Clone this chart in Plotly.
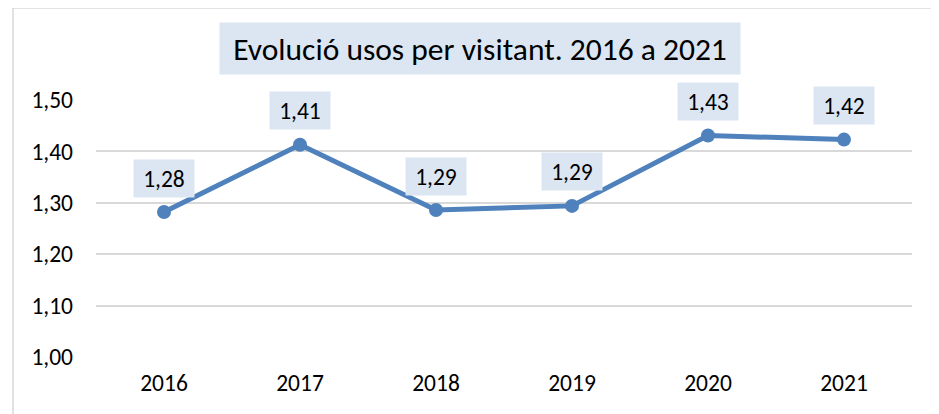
import plotly.graph_objects as go

years = ["2016", "2017", "2018", "2019", "2020", "2021"]
usos_per_visitant = [1.282, 1.413, 1.286, 1.294, 1.431, 1.423]
title_text = "Evolució usos per visitant. 2016 a 2021"
y_ticks = [1.00, 1.10, 1.20, 1.30, 1.40, 1.50]

FONT = "Carlito, Calibri, Lato, sans-serif"
LINE_COLOR = "#4F81BD"
LABEL_BG = "#DCE6F2"
GRID = "#D9D9D9"

fig = go.Figure()
fig.add_trace(go.Scatter(
    x=years, y=usos_per_visitant, mode="lines+markers",
    line=dict(color=LINE_COLOR, width=5),
    marker=dict(color=LINE_COLOR, size=14),
    hoverinfo="skip", showlegend=False,
))

annotations = []
for i, v in enumerate(usos_per_visitant):
    annotations.append(dict(
        x=i, y=v, xref="x", yref="y",
        text=f"{v:.2f}".replace(".", ","),
        showarrow=False, yshift=34,
        bgcolor=LABEL_BG, width=56, height=33, borderpad=2,
        font=dict(family=FONT, size=23.5, color="#000000"),
    ))

# page has an 8px body margin; screen plot area x 96..912, y 100..357
OFF = 8
W, H = 939, 414
L, T = 96 - OFF, 100 - OFF
R = W - (912 - OFF)
B = H - (357 - OFF)
pw, ph = W - L - R, H - T - B

def px_x(px):
    return (px - OFF - L) / pw

def px_y(py):
    return (H - B - (py - OFF)) / ph

annotations.append(dict(
    x=px_x(480), y=px_y(48.5), xref="paper", yref="paper",
    text=title_text, showarrow=False,
    bgcolor=LABEL_BG, width=516, height=47, borderpad=2,
    xanchor="center", yanchor="middle",
    font=dict(family=FONT, size=31.5, color="#000000"),
))

shapes = [
    dict(type="line", xref="paper", yref="paper",
         x0=px_x(13), x1=px_x(13), y0=px_y(8), y1=px_y(414),
         line=dict(color=GRID, width=1.5)),
    dict(type="line", xref="paper", yref="paper",
         x0=px_x(13), x1=px_x(939), y0=px_y(8), y1=px_y(8),
         line=dict(color=GRID, width=1.5)),
]

fig.update_layout(
    width=W, height=H,
    margin=dict(l=L, r=R, t=T, b=B),
    paper_bgcolor="white", plot_bgcolor="white",
    separators=",.",
    annotations=annotations, shapes=shapes,
    font=dict(family=FONT, size=23.5, color="#000000"),
    xaxis=dict(
        type="category", range=[-0.5, len(years) - 0.5],
        showgrid=False, zeroline=False, showline=False,
        ticks="", ticklabelstandoff=9,
        tickfont=dict(family=FONT, size=23.5, color="#000000"),
    ),
    yaxis=dict(
        range=[1.0, 1.5], tickvals=y_ticks, tickformat=".2f",
        showgrid=True, gridcolor=GRID, gridwidth=1.5,
        zeroline=False, showline=False, ticks="",
        ticklabelstandoff=22,
        tickfont=dict(family=FONT, size=23.5, color="#000000"),
    ),
)

fig.write_html("out.html")
